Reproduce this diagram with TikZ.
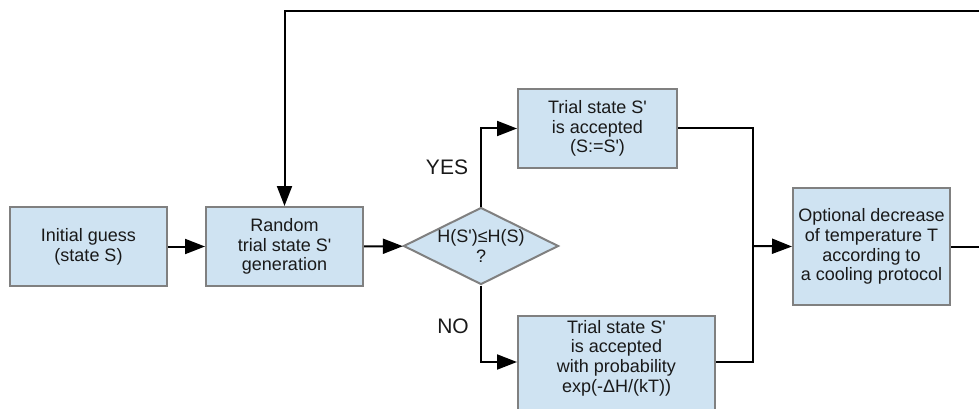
\documentclass[tikz,border=0pt]{standalone}
\usepackage{fontspec}
\setmainfont[Ligatures=TeXOff]{Liberation Sans}
\usetikzlibrary{shapes.geometric,arrows.meta}
\definecolor{boxfill}{RGB}{207,227,242}
\definecolor{boxline}{RGB}{128,128,128}
\definecolor{txt}{RGB}{25,25,25}
\tikzset{
  stepbox/.style={rectangle, draw=boxline, fill=boxfill, line width=2pt, inner sep=0pt, align=center, text=txt, font=\fontsize{18}{19.7}\selectfont},
  decbox/.style={diamond, draw=boxline, fill=boxfill, line width=2pt, inner sep=0pt, minimum width=155pt, minimum height=77pt},
  lbl/.style={text=txt, font=\fontsize{18}{19.7}\selectfont, align=center, inner sep=0pt},
  biglbl/.style={text=txt, font=\fontsize{21}{22}\selectfont, inner sep=0pt},
  conn/.style={line width=2pt, draw=black},
  arr/.style={conn, -{Triangle[length=20pt,width=15pt]}}
}
\begin{document}
\begin{tikzpicture}[x=1pt,y=-1pt]
\useasboundingbox (0,0) rectangle (979,409);
\clip (0,0) rectangle (979,409);
\fill[white] (0,0) rectangle (979,409);

\node[stepbox, minimum width=157pt, minimum height=79pt] (init) at (88.5,246.5) {Initial guess\\(state S)};
\node[stepbox, minimum width=157pt, minimum height=79pt] (rand) at (284.5,246.5) {Random\\trial state S'\\generation};
\node[decbox] (dec) at (481,246) {};
\node[lbl] (dectxt) at (dec) {H(S')≤H(S)\\?};
\node[stepbox, minimum width=159pt, minimum height=79pt] (acc) at (597.5,128.5) {Trial state S'\\is accepted\\(S:=S')};
\node[stepbox, minimum width=197pt, minimum height=104pt] (prob) at (616.5,368) {};
\node[lbl] (probtxt) at (616.5,358) {Trial state S'\\is accepted\\with probability\\exp(-ΔH/(kT))};
\node[stepbox, minimum width=157pt, minimum height=117pt] (opt) at (871.5,246.5) {Optional decrease\\of temperature T\\according to\\a cooling protocol};

\node[biglbl] (yes) at (447,167) {YES};
\node[biglbl] (no) at (453,326) {NO};

\coordinate (m) at (753,246);
\coordinate (loopR) at (995,11);

\draw[arr] (init) -- (rand);
\draw[arr] (rand) -- (dec);
\draw[arr] (dec.north) |- (acc.west);
\draw[arr] (dec.south) |- ([yshift=6pt]prob.west);
\draw[conn] (acc.east) -| (m);
\draw[conn] ([yshift=6pt]prob.east) -| (m);
\draw[arr] (m) -- (opt.west);
\draw[arr] (opt.east) -| (loopR) -| (rand.north);
\end{tikzpicture}
\end{document}
